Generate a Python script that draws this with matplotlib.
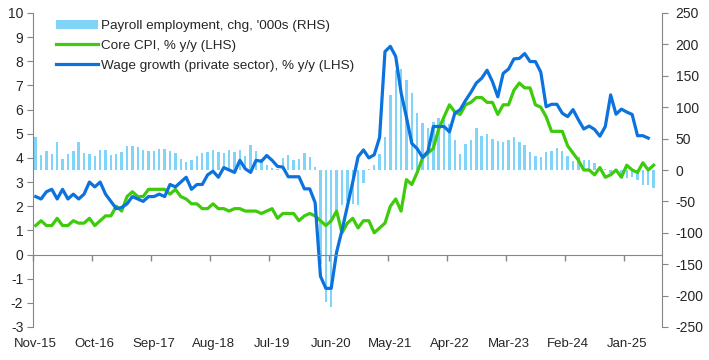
import matplotlib
matplotlib.use("Agg")
import matplotlib.pyplot as plt
import numpy as np
import pandas as pd

plt.rcParams['font.family'] = ['Liberation Sans', 'DejaVu Sans']
plt.rcParams['axes.unicode_minus'] = False

# monthly categories, Nov-15 .. Jul-25
months = pd.date_range('2015-11-01', '2025-07-01', freq='MS')

# payroll employment, monthly change, '000s (RHS)
payroll = [53, 24, 30, 25, 45, 18, 25, 30, 45, 27,
           25, 22, 32, 32, 24, 25, 29, 38, 38, 36,
           32, 30, 30, 34, 33, 30, 27, 17, 12, 16,
           22, 27, 29, 32, 28, 27, 32, 29, 32, 22,
           40, 30, 17, 8, 3, 2, 19, 24, 16, 17,
           27, 20, 5, -150, -210, -218, -65, -56, -50, -54,
           -56, -21, 1, 8, 25, 52, 119, 160, 161, 143,
           123, 90, 75, 67, 77, 83, 80, 74, 48, 25,
           41, 48, 67, 54, 57, 49, 46, 44, 47, 53,
           45, 40, 28, 22, 21, 29, 31, 35, 31, 22,
           15, 20, 16, 16, 11, 5, 2, -5, 1, -8,
           -13, -11, -16, -24, -24, -29]

# core CPI, % y/y (LHS)
core_cpi = [1.2, 1.4, 1.2, 1.2, 1.5, 1.2, 1.2, 1.4, 1.3, 1.3,
            1.5, 1.2, 1.4, 1.6, 1.6, 2.0, 1.8, 2.4, 2.6, 2.4,
            2.4, 2.7, 2.7, 2.7, 2.7, 2.5, 2.7, 2.4, 2.3, 2.1,
            2.1, 1.9, 1.9, 2.1, 1.9, 1.9, 1.8, 1.9, 1.9, 1.8,
            1.8, 1.8, 1.7, 1.8, 1.9, 1.5, 1.7, 1.7, 1.7, 1.4,
            1.6, 1.7, 1.6, 1.4, 1.2, 1.4, 1.8, 0.9, 1.3, 1.5,
            1.1, 1.4, 1.4, 0.9, 1.1, 1.3, 2.0, 2.3, 1.8, 3.1,
            2.9, 3.4, 4.0, 4.2, 4.4, 5.2, 5.7, 6.2, 5.9, 5.8,
            6.2, 6.3, 6.5, 6.5, 6.3, 6.3, 5.8, 6.2, 6.2, 6.8,
            7.1, 6.9, 6.9, 6.2, 6.1, 5.7, 5.1, 5.1, 5.1, 4.5,
            4.2, 3.9, 3.5, 3.5, 3.3, 3.6, 3.2, 3.3, 3.5, 3.2,
            3.7, 3.5, 3.4, 3.8, 3.5, 3.7]

# wage growth (private sector), % y/y (LHS)
wages = [2.4, 2.3, 2.6, 2.7, 2.3, 2.7, 2.3, 2.5, 2.3, 2.5,
         3.0, 2.8, 3.0, 2.5, 2.2, 1.9, 1.95, 2.1, 2.4, 2.3,
         2.2, 2.4, 2.4, 2.5, 2.4, 2.9, 2.8, 3.0, 3.2, 2.7,
         2.9, 2.9, 3.3, 3.45, 3.2, 3.6, 3.5, 3.4, 3.9, 3.55,
         3.4, 3.9, 3.86, 4.1, 3.9, 3.65, 3.62, 3.22, 3.22, 3.22,
         2.72, 2.72, 2.15, -0.9, -1.4, -1.4, 0.1, 1.0, 2.0, 3.0,
         4.05, 4.33, 4.0, 4.13, 4.85, 8.4, 8.62, 8.2, 6.7, 5.68,
         4.6, 4.38, 4.02, 4.27, 5.3, 5.3, 5.3, 5.08, 5.85, 6.0,
         6.38, 6.72, 7.1, 7.3, 7.63, 7.16, 6.53, 7.5, 7.68, 8.1,
         8.12, 8.32, 7.99, 7.99, 7.55, 6.12, 6.22, 6.22, 5.85, 5.71,
         6.0, 5.58, 5.2, 5.32, 5.18, 4.9, 5.3, 6.61, 5.81, 6.02,
         5.9, 5.8, 4.92, 4.92, 4.82]

label_step = 11

bar_col = '#7FD4F8'
green = '#3DCB0C'
blue = '#0B72DE'
grey = '#868686'
txt = '#262626'

x = np.arange(len(months))

fig = plt.figure(figsize=(7.09, 3.6), dpi=100)
ax = fig.add_axes([33 / 709, 1 - 327 / 360, 628.7 / 709, 314 / 360])
ax2 = ax.twinx()

bars = ax2.bar(x[:len(payroll)], payroll, width=0.45, color=bar_col,
               label="Payroll employment, chg, '000s (RHS)")
l1, = ax.plot(x[:len(core_cpi)], core_cpi, color=green, lw=2.3,
              solid_joinstyle='round', label='Core CPI, % y/y (LHS)')
l2, = ax.plot(x[:len(wages)], wages, color=blue, lw=2.3,
              solid_joinstyle='round',
              label='Wage growth (private sector), % y/y (LHS)')

# lines above the bars
ax.set_zorder(ax2.get_zorder() + 1)
ax.patch.set_visible(False)

ax.set_xlim(-0.5, len(months) - 0.5)
ax.set_ylim(-3, 10)
ax2.set_ylim(-250, 250)
ax.set_yticks(range(-3, 11))
ax2.set_yticks(range(-250, 251, 50))

# category axis sits on zero, labels at the bottom
ax.spines['bottom'].set_position(('data', 0))
lab_pos = x[::label_step]
ax.set_xticks(lab_pos)
ax.set_xticklabels([m.strftime('%b-%y') for m in months[::label_step]])
ax.set_xticks(lab_pos - 0.5, minor=True)
ax.tick_params(axis='x', which='major', length=0, pad=60, labelsize=9.5,
               colors=txt)
ax.tick_params(axis='x', which='minor', length=4, width=1, color=grey,
               direction='out')

for s in ['top', 'right']:
    ax.spines[s].set_visible(False)
for s in ['top', 'left', 'bottom']:
    ax2.spines[s].set_visible(False)
ax.spines['left'].set_color(grey)
ax.spines['bottom'].set_color(grey)
ax2.spines['right'].set_color(grey)
ax.tick_params(axis='y', length=4, color=grey, pad=3, labelsize=10,
               labelcolor=txt)
ax2.tick_params(axis='y', length=4, color=grey, pad=6, labelsize=10,
                labelcolor=txt)

leg = ax.legend([bars, l1, l2], [bars.get_label(), l1.get_label(), l2.get_label()],
                loc='upper left', bbox_to_anchor=(0.037, 0.978), frameon=False,
                fontsize=9.7, handlelength=3.1, handletextpad=0.25,
                labelspacing=0.55, borderpad=0, borderaxespad=0)
for t in leg.get_texts():
    t.set_color(txt)

fig.savefig('out.png', dpi=100)
